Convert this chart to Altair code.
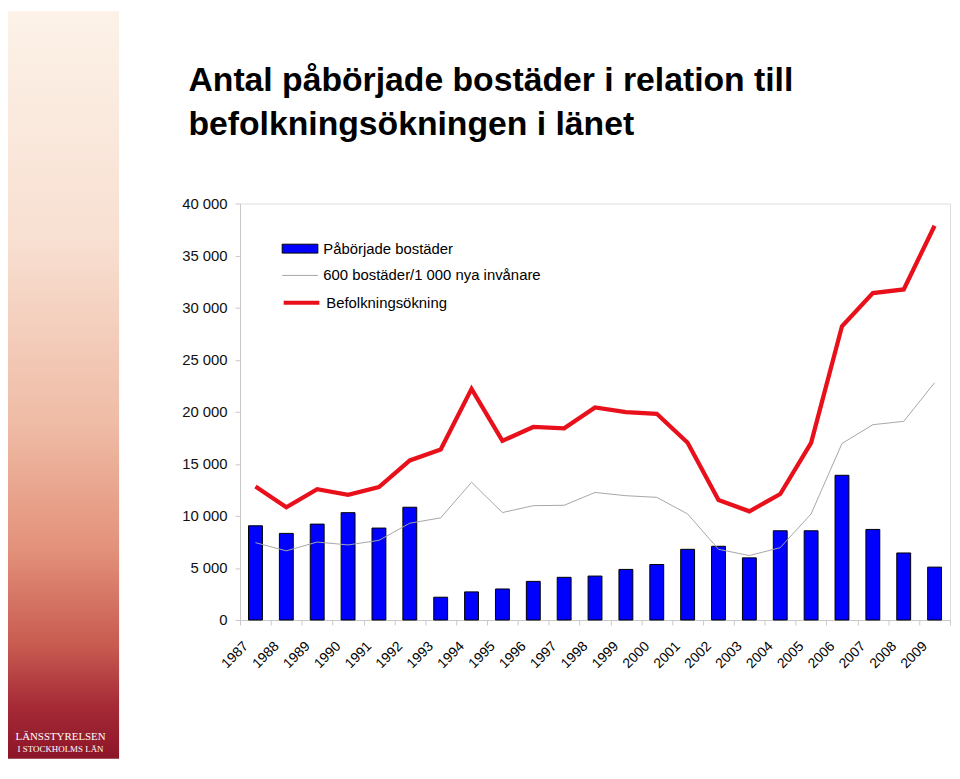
import altair as alt
import pandas as pd

YEARS = ["1987", "1988", "1989", "1990", "1991", "1992", "1993", "1994", "1995", "1996",
         "1997", "1998", "1999", "2000", "2001", "2002", "2003", "2004", "2005", "2006",
         "2007", "2008", "2009"]
BOSTADER = [9050, 8320, 9210, 10310, 8830, 10830, 2190, 2700, 2980, 3710, 4100, 4220,
            4860, 5330, 6790, 7080, 5970, 8570, 8570, 13900, 8700, 6440, 5080]
NORM = [7430, 6640, 7490, 7210, 7650, 9300, 9810, 13230, 10320, 10980, 11020, 12250,
        11940, 11780, 10190, 6790, 6190, 6950, 10190, 16950, 18760, 19080, 22790]
BEF = [12830, 10830, 12570, 12030, 12760, 15330, 16380, 22200, 17210, 18540, 18410, 20410,
       19970, 19810, 17020, 11520, 10440, 12100, 17020, 28220, 31400, 31750, 37870]

SERIES = ["Påbörjade bostäder", "600 bostäder/1 000 nya invånare", "Befolkningsökning"]
COLORS = ["#0000ff", "#a6a6a6", "#e8101a"]
TITLE = ["Antal påbörjade bostäder i relation till", "befolkningsökningen i länet"]
LOGO = ["LÄNSSTYRELSEN", "I STOCKHOLMS LÄN"]
Y_TICKS = [0, 5000, 10000, 15000, 20000, 25000, 30000, 35000, 40000]

rows = []
for name, vals in zip(SERIES, [BOSTADER, NORM, BEF]):
    for yr, v in zip(YEARS, vals):
        rows.append({"year": yr, "series": name, "value": v})
df = pd.DataFrame(rows)

FONT = "Liberation Sans"

x_enc = alt.X(
    "year:O",
    sort=YEARS,
    scale=alt.Scale(paddingInner=0, paddingOuter=0),
    axis=alt.Axis(
        title=None, labelAngle=-45, labelAlign="right", labelBaseline="middle",
        labelFont=FONT, labelFontSize=14, labelColor="#000000",
        labelPadding=19, labelOffset=-10, tickBand="extent", tickSize=5,
        tickColor="#c8c8c8", domainColor="#c8c8c8", grid=False,
    ),
)
y_enc = alt.Y(
    "value:Q",
    scale=alt.Scale(domain=[0, 40000], nice=False),
    axis=alt.Axis(
        title=None, values=Y_TICKS, labelFont=FONT, labelFontSize=15, labelColor="#111111",
        labelExpr="replace(format(datum.value, ','), ',', ' ')",
        labelPadding=8, tickSize=5, tickColor="#c8c8c8", domainColor="#c8c8c8", grid=False,
    ),
)


def make_legend(y, shape, stroke, sw, fill):
    return alt.Legend(
        title=None, orient="none", legendX=42, legendY=y, padding=0,
        symbolSize=1296, symbolType=shape, labelOffset=5,
        symbolStrokeColor=stroke, symbolStrokeWidth=sw, symbolFillColor=fill,
        symbolOpacity=1,
        labelFont=FONT, labelFontSize=15, labelColor="#000000", labelLimit=400,
    )


base = alt.Chart(df)

bars = base.transform_filter(alt.datum.series == SERIES[0]).mark_bar(
    size=14, stroke="#000000", strokeWidth=1, opacity=1
).encode(
    x=x_enc, y=y_enc,
    fill=alt.Fill("series:N", scale=alt.Scale(domain=[SERIES[0]], range=[COLORS[0]]),
                  legend=make_legend(27, "M-1,-0.25H1V0.25H-1Z", "#000000", 1, COLORS[0])),
)

gray = base.transform_filter(alt.datum.series == SERIES[1]).mark_line(
    strokeWidth=1
).encode(
    x=x_enc, y=y_enc,
    stroke=alt.Stroke("series:N", scale=alt.Scale(domain=[SERIES[1]], range=["#a6a6a6"]),
                      legend=make_legend(54, "M-1,0H1", "#b4b4b4", 1, "transparent")),
)

red = base.transform_filter(alt.datum.series == SERIES[2]).mark_line(
    strokeWidth=4.3, strokeJoin="miter"
).encode(
    x=x_enc, y=y_enc,
    stroke=alt.Stroke("series:N", scale=alt.Scale(domain=[SERIES[2]], range=[COLORS[2]]),
                      legend=make_legend(80, "M-1,0H1", COLORS[2], 4, "transparent")),
)

grad = alt.LinearGradient(
    gradient="linear", x1=0, x2=0, y1=0, y2=1,
    stops=[
        alt.GradientStop(color="#fcf2e8", offset=0.0),
        alt.GradientStop(color="#f8e0d2", offset=0.3),
        alt.GradientStop(color="#efbca6", offset=0.55),
        alt.GradientStop(color="#e3917a", offset=0.72),
        alt.GradientStop(color="#c75a50", offset=0.85),
        alt.GradientStop(color="#a52a36", offset=0.93),
        alt.GradientStop(color="#8c1528", offset=1.0),
    ],
)
strip_df = pd.DataFrame({"k": [0]})
strip = alt.Chart(strip_df).mark_rect(fill=grad).encode(
    x=alt.value(-234), x2=alt.value(-122), y=alt.value(-194), y2=alt.value(560)
)

logo1 = alt.Chart(pd.DataFrame({"t": [LOGO[0]]})).mark_text(
    font="Liberation Serif", fontSize=11, color="#ffffff", align="center", baseline="middle"
).encode(text="t:N", x=alt.value(-181), y=alt.value(538))
logo2 = alt.Chart(pd.DataFrame({"t": [LOGO[1]]})).mark_text(
    font="Liberation Serif", fontSize=9, color="#ffffff", align="center", baseline="middle"
).encode(text="t:N", x=alt.value(-181), y=alt.value(550))

title1 = alt.Chart(pd.DataFrame({"t": [TITLE[0]]})).mark_text(
    font=FONT, fontSize=34, fontWeight="bold", color="#000000", align="left", baseline="alphabetic"
).encode(text="t:N", x=alt.value(-52), y=alt.value(-113))
title2 = alt.Chart(pd.DataFrame({"t": [TITLE[1]]})).mark_text(
    font=FONT, fontSize=34, fontWeight="bold", color="#000000", align="left", baseline="alphabetic"
).encode(text="t:N", x=alt.value(-52), y=alt.value(-69))

chart = alt.layer(strip, logo1, logo2, title1, title2, bars, gray, red).resolve_scale(
    stroke="independent"
).resolve_legend(stroke="independent").properties(
    width=716, height=420,
    autosize=alt.AutoSizeParams(type="none"),
    padding={"left": 234, "top": 194, "right": 2, "bottom": 140},
).configure_view(stroke="#d9d9d9", strokeWidth=1).configure(background="#ffffff")

chart.save("out.html", embed_options={"renderer": "svg", "actions": False})
